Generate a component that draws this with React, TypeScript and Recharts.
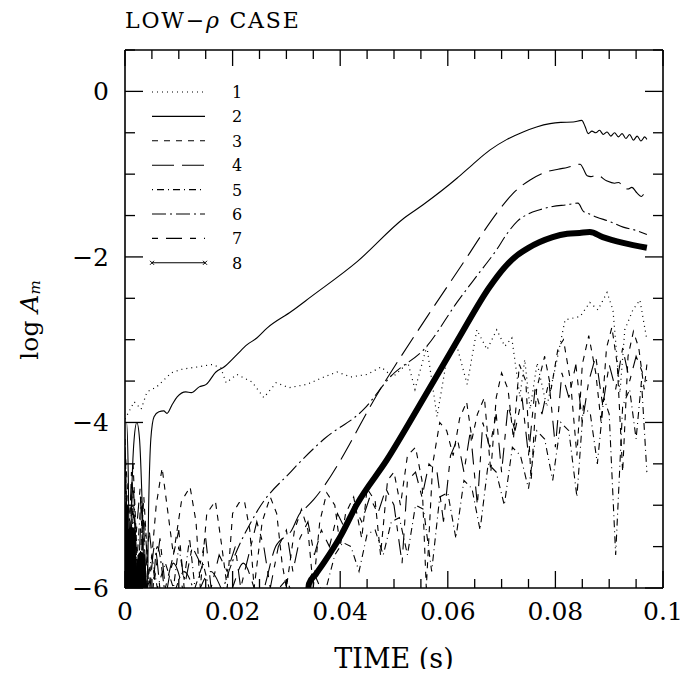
import React from "react";
import { LineChart, Line, XAxis, YAxis, Legend } from "recharts";

// ticks on the frame (minor every 0.005 / 0.5)
const X_TICKS = [0, 0.005, 0.01, 0.015, 0.02, 0.025, 0.03, 0.035, 0.04, 0.045, 0.05, 0.055, 0.06, 0.065, 0.07, 0.075, 0.08, 0.085, 0.09, 0.095, 0.1];
const X_MAJOR = [0, 0.02, 0.04, 0.06, 0.08, 0.1];
const X_LABELS = ["0", "0.02", "0.04", "0.06", "0.08", "0.1"];
const Y_TICKS = [-6, -5.5, -5, -4.5, -4, -3.5, -3, -2.5, -2, -1.5, -1, -0.5, 0, 0.5];
const Y_MAJOR = [0, -2, -4, -6];
const Y_LABELS = ["0", "\u22122", "\u22124", "\u22126"];

// log A_m vs time, one list per mode, [time (s), log A]
const MODE_1 = [
  [0, -3.96], [0.0017, -3.75], [0.003, -3.84], [0.0041, -3.63], [0.0059, -3.57], [0.0086, -3.4],
  [0.0104, -3.36], [0.0123, -3.34], [0.0134, -3.33], [0.0162, -3.3], [0.0178, -3.34], [0.0188, -3.52],
  [0.0208, -3.42], [0.0236, -3.51], [0.0258, -3.7], [0.0281, -3.52], [0.0305, -3.58], [0.0338, -3.54],
  [0.037, -3.45], [0.0394, -3.39], [0.042, -3.45], [0.045, -3.42], [0.0476, -3.33], [0.0498, -3.45],
  [0.0526, -3.28], [0.0539, -3.6], [0.0561, -3.08], [0.058, -3.93], [0.0599, -3.2], [0.0617, -3.08],
  [0.0636, -3.54], [0.0654, -2.88], [0.0673, -3.12], [0.0691, -2.88], [0.0706, -3.08], [0.0719, -2.98],
  [0.0734, -3.69], [0.0743, -3.24], [0.0753, -3.84], [0.0766, -3.28], [0.0784, -3.81], [0.0803, -3.24],
  [0.0818, -2.76], [0.0846, -2.72], [0.0864, -2.55], [0.0879, -2.64], [0.0896, -2.43], [0.0907, -2.64],
  [0.092, -3.64], [0.0929, -2.88], [0.0944, -2.64], [0.0957, -2.52], [0.097, -3.0],
];

const MODE_2 = [
  [0, -4.0], [0.0003, -4.0], [0.0006, -4.6], [0.0009, -6.2], [0.0012, -5.0], [0.0017, -4.2],
  [0.0022, -4.0], [0.0027, -4.2], [0.0032, -5.0], [0.0037, -6.2], [0.0041, -6.2], [0.0044, -5.0],
  [0.0048, -4.2], [0.0054, -3.93], [0.0063, -3.87], [0.0072, -3.86], [0.0078, -3.89], [0.0088, -3.78],
  [0.0097, -3.69], [0.0113, -3.63], [0.0123, -3.64], [0.0138, -3.57], [0.0151, -3.54], [0.0169, -3.39],
  [0.0184, -3.33], [0.0208, -3.18], [0.0227, -3.06], [0.0245, -2.98], [0.0264, -2.86], [0.0309, -2.66],
  [0.0346, -2.48], [0.0431, -2.06], [0.0519, -1.53], [0.0554, -1.37], [0.0617, -1.05], [0.0645, -0.89],
  [0.0678, -0.71], [0.071, -0.58], [0.074, -0.49], [0.0765, -0.43], [0.079, -0.39], [0.081, -0.375],
  [0.0833, -0.37], [0.0849, -0.35], [0.0855, -0.42], [0.0861, -0.51],
  [0.0868, -0.48], [0.0875, -0.5], [0.0882, -0.47], [0.0889, -0.52], [0.0896, -0.49], [0.0903, -0.54],
  [0.091, -0.5], [0.0917, -0.55], [0.0924, -0.51], [0.0931, -0.57], [0.0938, -0.52], [0.0945, -0.59],
  [0.0952, -0.54], [0.0959, -0.6], [0.0966, -0.55], [0.097, -0.58],
];

const MODE_3 = [
  [0, -4.3], [0.0008, -5.2], [0.0015, -4.5], [0.0025, -6.0], [0.0035, -4.9], [0.0045, -6.0],
  [0.0058, -5.0], [0.0069, -4.55], [0.008, -5.1], [0.009, -5.6], [0.0105, -4.95], [0.0121, -4.78],
  [0.0132, -5.2], [0.014, -6.0], [0.0152, -5.1], [0.0168, -4.95], [0.018, -5.5], [0.019, -6.0],
  [0.02, -5.1], [0.0212, -4.97], [0.0222, -4.95], [0.0232, -5.3], [0.024, -6.0], [0.0255, -5.2],
  [0.027, -4.9], [0.0282, -5.1], [0.0292, -5.7], [0.03, -6.0], [0.0315, -5.3], [0.0328, -5.05],
  [0.034, -5.3], [0.035, -6.0], [0.0362, -5.2], [0.0375, -4.85], [0.039, -5.0], [0.04, -5.5],
  [0.041, -5.1], [0.0425, -4.9], [0.044, -5.4], [0.045, -4.8], [0.0465, -4.95], [0.0475, -5.6],
  [0.0488, -4.7], [0.05, -4.6], [0.0512, -5.0], [0.0525, -4.4], [0.054, -4.3], [0.0552, -4.7],
  [0.056, -6.0], [0.0572, -4.5], [0.0585, -4.0], [0.0598, -4.1], [0.061, -4.4], [0.0622, -3.95],
  [0.0635, -3.75], [0.0645, -4.2], [0.0655, -3.9], [0.0668, -3.7], [0.068, -4.6], [0.069, -3.7],
  [0.07, -3.4], [0.0712, -3.6], [0.0722, -4.2], [0.0733, -3.3], [0.0745, -3.5], [0.0755, -4.7],
  [0.0765, -3.6], [0.078, -3.2], [0.0792, -3.6], [0.0805, -3.1], [0.0815, -3.0], [0.0828, -3.5],
  [0.084, -4.4], [0.085, -3.3], [0.0862, -2.95], [0.0875, -3.4], [0.0885, -4.0], [0.0895, -3.1],
  [0.0905, -2.85], [0.0915, -3.3], [0.0925, -4.6], [0.0935, -3.2], [0.0945, -2.9], [0.0955, -3.1],
  [0.0965, -3.6], [0.097, -3.3],
];

const MODE_4 = [
  [0, -4.6], [0.0008, -6.0], [0.0016, -5.1], [0.0024, -5.8], [0.0032, -5.0], [0.0042, -6.2],
  [0.0055, -5.5], [0.007, -6.2], [0.009, -5.7], [0.012, -6.2], [0.016, -5.8], [0.019, -6.1],
  [0.022, -5.7], [0.025, -6.1], [0.028, -5.5], [0.031, -5.3], [0.0325, -5.1], [0.0333, -5.05],
  [0.0351, -4.93], [0.0362, -4.84], [0.048, -3.54], [0.0572, -2.62], [0.0636, -2.0], [0.066, -1.76],
  [0.0697, -1.42], [0.072, -1.24], [0.0753, -1.07], [0.078, -0.98], [0.0805, -0.94], [0.0822, -0.92],
  [0.0846, -0.88], [0.0853, -0.95], [0.0859, -1.02],
  [0.0866, -1.03], [0.0877, -1.01], [0.0895, -1.08], [0.091, -1.11], [0.0918, -1.1], [0.0926, -1.16],
  [0.0935, -1.18], [0.0942, -1.16], [0.0952, -1.23], [0.096, -1.27], [0.0965, -1.24], [0.097, -1.28],
];

const MODE_5 = [
  [0, -4.5], [0.0007, -6.0], [0.0014, -5.0], [0.0022, -5.7], [0.003, -4.9], [0.004, -6.0],
  [0.005, -5.6], [0.006, -6.0], [0.0075, -5.7], [0.009, -6.0], [0.01, -5.5], [0.011, -5.9],
  [0.012, -5.4], [0.013, -6.0], [0.0145, -5.7], [0.016, -6.1], [0.02, -6.3], [0.026, -6.2],
  [0.03, -5.9], [0.032, -6.2], [0.035, -5.8], [0.037, -6.1], [0.039, -5.6], [0.0405, -5.45],
  [0.042, -5.5], [0.0435, -5.8], [0.045, -5.35], [0.0465, -5.3], [0.048, -5.6], [0.0495, -5.2],
  [0.051, -5.15], [0.0525, -5.6], [0.054, -5.0], [0.0555, -5.05], [0.057, -5.8], [0.0585, -4.9],
  [0.06, -4.85], [0.0615, -5.4], [0.063, -4.7], [0.0645, -4.8], [0.066, -5.3], [0.0675, -4.5],
  [0.069, -4.6], [0.0705, -5.0], [0.072, -4.3], [0.0735, -4.4], [0.075, -4.8], [0.0765, -4.1],
  [0.078, -4.2], [0.0795, -4.7], [0.081, -4.0], [0.0825, -4.1], [0.084, -4.9], [0.0852, -3.8],
  [0.0865, -3.9], [0.0878, -4.5], [0.089, -3.7], [0.09, -3.9], [0.0912, -5.6], [0.0925, -3.8],
  [0.0938, -3.6], [0.095, -4.2], [0.096, -3.5], [0.097, -4.6],
];

const MODE_6 = [
  [0, -4.4], [0.0007, -5.6], [0.0015, -4.8], [0.0025, -6.2], [0.0035, -5.2], [0.0048, -6.2],
  [0.006, -5.5], [0.008, -6.2], [0.011, -5.8], [0.014, -6.2], [0.017, -6.3], [0.0184, -5.98],
  [0.0245, -5.08], [0.0309, -4.59], [0.037, -4.2], [0.0444, -3.84], [0.0493, -3.45], [0.0561, -3.08],
  [0.0617, -2.55], [0.0655, -2.22], [0.069, -1.92], [0.071, -1.72], [0.0729, -1.57], [0.075, -1.48],
  [0.0771, -1.43], [0.0795, -1.39], [0.0822, -1.37], [0.0842, -1.35],
  [0.0852, -1.45], [0.0859, -1.47], [0.0877, -1.52], [0.09, -1.57], [0.0926, -1.64], [0.095, -1.68],
  [0.097, -1.73],
];

const MODE_7 = [
  [0, -4.2], [0.0006, -5.8], [0.0012, -4.6], [0.002, -5.4], [0.0028, -4.8], [0.0036, -6.0],
  [0.0045, -5.3], [0.0055, -5.9], [0.0065, -5.4], [0.0075, -6.0], [0.009, -5.6], [0.01, -5.3],
  [0.011, -6.0], [0.0125, -5.5], [0.014, -5.7], [0.015, -5.4], [0.016, -6.0], [0.0175, -5.6],
  [0.019, -5.8], [0.0205, -5.5], [0.0215, -6.0], [0.023, -5.6], [0.0245, -5.2], [0.0258, -5.5],
  [0.027, -6.0], [0.0285, -5.5], [0.03, -5.3], [0.0312, -5.8], [0.0325, -5.4], [0.034, -5.2],
  [0.0352, -5.6], [0.0365, -5.3], [0.038, -5.5], [0.0395, -5.1], [0.041, -5.3], [0.0425, -5.0],
  [0.044, -5.2], [0.0455, -4.9], [0.047, -5.1], [0.0485, -4.8], [0.05, -5.0], [0.0515, -5.7],
  [0.0525, -4.7], [0.054, -4.6], [0.0552, -4.9], [0.0565, -4.5], [0.058, -4.6], [0.0592, -5.2],
  [0.0605, -4.4], [0.0618, -4.2], [0.063, -4.6], [0.0642, -4.1], [0.0655, -5.0], [0.0665, -4.0],
  [0.0678, -4.3], [0.069, -3.9], [0.07, -4.6], [0.0712, -3.8], [0.0725, -4.1], [0.0738, -3.7],
  [0.075, -4.4], [0.0762, -3.6], [0.0775, -3.9], [0.0788, -3.5], [0.08, -4.3], [0.0812, -3.4],
  [0.0825, -3.7], [0.0838, -3.3], [0.085, -4.0], [0.0862, -3.5], [0.0875, -3.2], [0.0888, -3.8],
  [0.09, -3.3], [0.0912, -3.6], [0.0925, -3.1], [0.0938, -3.5], [0.095, -3.2], [0.0962, -3.4],
  [0.097, -3.5],
];

const MODE_8 = [
  [0, -5.0], [0.0006, -6.3], [0.0012, -5.3], [0.002, -6.3], [0.003, -5.6], [0.004, -6.4],
  [0.006, -7.0], [0.033, -7.0], [0.0342, -5.95], [0.0355, -5.83], [0.037, -5.69], [0.0401, -5.37],
  [0.0431, -4.99], [0.0487, -4.45], [0.0554, -3.72], [0.0617, -3.02], [0.0678, -2.36], [0.0705, -2.13],
  [0.0729, -1.98], [0.075, -1.89], [0.0771, -1.82], [0.0795, -1.76], [0.0822, -1.72], [0.0845, -1.71],
  [0.0864, -1.7], [0.0888, -1.76], [0.0926, -1.83], [0.097, -1.89],
];

const SERIES = [
  { name: "1", data: MODE_1, dash: "1 4", width: 1.2, curve: "linear" },
  { name: "2", data: MODE_2, dash: undefined, width: 1.1, curve: "monotone" },
  { name: "3", data: MODE_3, dash: "6 6", width: 1.1, curve: "linear" },
  { name: "4", data: MODE_4, dash: "22 8", width: 1.1, curve: "monotone" },
  { name: "5", data: MODE_5, dash: "1 4 7 4", width: 1.1, curve: "linear" },
  { name: "6", data: MODE_6, dash: "14 4 2 4", width: 1.1, curve: "monotone" },
  { name: "7", data: MODE_7, dash: "6 8 16 8", width: 1.1, curve: "linear" },
  { name: "8", data: MODE_8, dash: undefined, width: 6, curve: "monotone" },
];

const FONT = "'DejaVu Serif', serif";

const labelFor = (v: number, majors: number[], labels: string[]) => {
  const i = majors.findIndex((m) => Math.abs(m - v) < 1e-9);
  return i >= 0 ? labels[i] : null;
};

function BottomTick({ x, y, payload }: any) {
  const label = labelFor(payload.value, X_MAJOR, X_LABELS);
  return (
    <g>
      <line x1={x} y1={y} x2={x} y2={y - (label ? 17 : 9)} stroke="#000" strokeWidth={1.3} />
      {label && (
        <text x={x} y={y + 32} textAnchor="middle" fontFamily={FONT} fontSize={25} fill="#000">
          {label}
        </text>
      )}
    </g>
  );
}

function TopTick({ x, y, payload }: any) {
  const major = labelFor(payload.value, X_MAJOR, X_LABELS);
  return <line x1={x} y1={y} x2={x} y2={y + (major ? 16 : 9)} stroke="#000" strokeWidth={1.3} />;
}

function LeftTick({ x, y, payload }: any) {
  const label = labelFor(payload.value, Y_MAJOR, Y_LABELS);
  return (
    <g>
      <line x1={x} y1={y} x2={x + (label ? 18 : 10)} y2={y} stroke="#000" strokeWidth={1.3} />
      {label && (
        <text x={x - 16} y={y + 9} textAnchor="end" fontFamily={FONT} fontSize={25} fill="#000">
          {label}
        </text>
      )}
    </g>
  );
}

function RightTick({ x, y, payload }: any) {
  const major = labelFor(payload.value, Y_MAJOR, Y_LABELS);
  return <line x1={x} y1={y} x2={x - (major ? 18 : 10)} y2={y} stroke="#000" strokeWidth={1.3} />;
}

function LegendBox() {
  return (
    <svg width={110} height={196}>
      {SERIES.map((s, i) => {
        const cy = 12 + i * 24.4;
        return (
          <g key={s.name}>
            <line x1={8} x2={61} y1={cy} y2={cy} stroke="#000" strokeWidth={1.1} strokeDasharray={s.dash} />
            {s.name === "8" && (
              <g stroke="#000" strokeWidth={1}>
                <path d={`M6 ${cy - 2} l4 4 M6 ${cy + 2} l4 -4`} />
                <path d={`M59 ${cy - 2} l4 4 M59 ${cy + 2} l4 -4`} />
              </g>
            )}
            <text x={93} y={cy + 6} textAnchor="middle" fontFamily={FONT} fontSize={16} fill="#000">
              {s.name}
            </text>
          </g>
        );
      })}
    </svg>
  );
}

export default function App() {
  return (
    <div style={{ position: "relative", width: 683, height: 661 }}>
      <LineChart width={683} height={661} margin={{ top: 32, right: 0, bottom: 0, left: 0 }}>
        <XAxis
          xAxisId="b"
          type="number"
          dataKey="t"
          domain={[0, 0.1]}
          ticks={X_TICKS}
          interval={0}
          allowDataOverflow
          height={81}
          tickSize={0}
          tickMargin={0}
          tickLine={false}
          tick={<BottomTick />}
          axisLine={{ stroke: "#000", strokeWidth: 1.6 }}
        />
        <XAxis
          xAxisId="t"
          orientation="top"
          type="number"
          dataKey="t"
          domain={[0, 0.1]}
          ticks={X_TICKS}
          interval={0}
          allowDataOverflow
          height={10}
          tickSize={0}
          tickMargin={0}
          tickLine={false}
          tick={<TopTick />}
          axisLine={{ stroke: "#000", strokeWidth: 1.6 }}
        />
        <YAxis
          yAxisId="l"
          type="number"
          domain={[-6, 0.5]}
          ticks={Y_TICKS}
          interval={0}
          allowDataOverflow
          width={117}
          tickSize={0}
          tickMargin={0}
          tickLine={false}
          tick={<LeftTick />}
          axisLine={{ stroke: "#000", strokeWidth: 1.6 }}
        />
        <YAxis
          yAxisId="r"
          orientation="right"
          type="number"
          domain={[-6, 0.5]}
          ticks={Y_TICKS}
          interval={0}
          allowDataOverflow
          width={28}
          tickSize={0}
          tickMargin={0}
          tickLine={false}
          tick={<RightTick />}
          axisLine={{ stroke: "#000", strokeWidth: 1.6 }}
        />
        <Legend
          layout="vertical"
          align="center"
          verticalAlign="middle"
          content={() => <LegendBox />}
          wrapperStyle={{ position: "absolute", left: 136, top: 72, width: 110, height: 196 }}
        />
        {SERIES.map((s) => (
          <Line
            key={s.name}
            name={s.name}
            xAxisId="b"
            yAxisId="l"
            data={s.data.map(([t, v]) => ({ t, v }))}
            dataKey="v"
            type={s.curve as any}
            stroke="#000"
            strokeWidth={s.width}
            strokeDasharray={s.dash}
            dot={false}
            activeDot={false}
            isAnimationActive={false}
          />
        ))}
      </LineChart>
      <svg
        width={683}
        height={669}
        style={{ position: "absolute", left: 0, top: 0, overflow: "visible", pointerEvents: "none" }}
      >
        <text x={117} y={20} fontFamily={FONT} fontSize={22} letterSpacing={1.8} fill="#000">
          LOW{"\u2212"}
          <tspan fontStyle="italic">ρ</tspan> CASE
        </text>
        <text x={386} y={660} textAnchor="middle" fontFamily={FONT} fontSize={27} fill="#000">
          TIME (s)
        </text>
        <text
          x={21}
          y={312}
          transform="rotate(-90 21 312)"
          textAnchor="middle"
          dominantBaseline="central"
          fontFamily={FONT}
          fontSize={25}
          fill="#000"
        >
          log <tspan fontStyle="italic">A</tspan>
          <tspan fontSize={15} dy={6} fontStyle="italic">m</tspan>
        </text>
      </svg>
    </div>
  );
}
